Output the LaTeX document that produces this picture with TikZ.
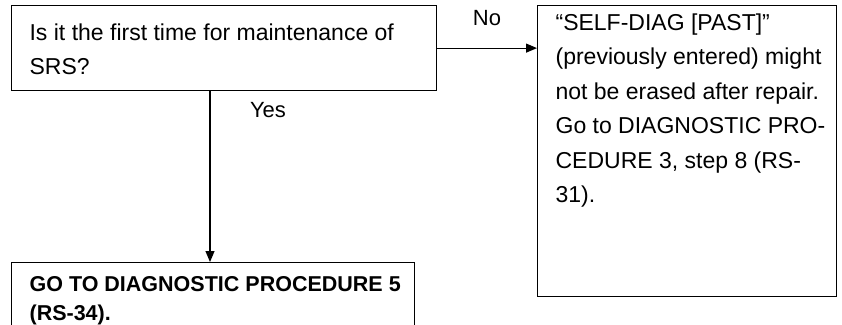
\documentclass[tikz,border=0pt]{standalone}
\usepackage{fontspec}
\setmainfont{Liberation Sans}
\usetikzlibrary{arrows.meta}
\begin{document}
\begin{tikzpicture}[x=1pt,y=-1pt,line width=1.2pt,
  box/.style={draw,rectangle,anchor=north west,inner sep=0pt},
  txt/.style={anchor=north west,inner sep=0pt,align=left,font=\fontsize{23}{34.5}\selectfont},
  lbl/.style={inner sep=0pt,font=\fontsize{22}{26}\selectfont},
  arr/.style={-{Triangle[length=11pt,width=9pt]}}]
\useasboundingbox (0,0) rectangle (842,324);
\clip (0,0) rectangle (842,324);
% boxes
\node[box,minimum width=425,minimum height=85] (q) at (11,5) {};
\node[box,minimum width=299,minimum height=291] (s) at (537,5) {};
\node[box,minimum width=403,minimum height=100] (g) at (11,262) {};
% texts
\node[txt] (qt) at (29,23) {Is it the first time for maintenance of\\SRS?};
\node[txt] (st) at (555,13) {“SELF-DIAG [PAST]”\\(previously entered) might\\not be erased after repair.\\Go to DIAGNOSTIC PRO-\\CEDURE 3, step 8 (RS-\\31).};
\node[txt,font=\fontsize{21.5}{28.5}\selectfont\bfseries] (gt) at (29,276) {GO TO DIAGNOSTIC PROCEDURE 5\\(RS-34).};
% connectors
\coordinate (vx) at (210,0);
\draw[arr] (q.east) -- (q.east -| s.west);
\draw[arr] (q.south -| vx) -- (g.north -| vx);
\node[lbl] (no) at (487,18) {No};
\node[lbl] (yes) at (268,110) {Yes};
\end{tikzpicture}
\end{document}
